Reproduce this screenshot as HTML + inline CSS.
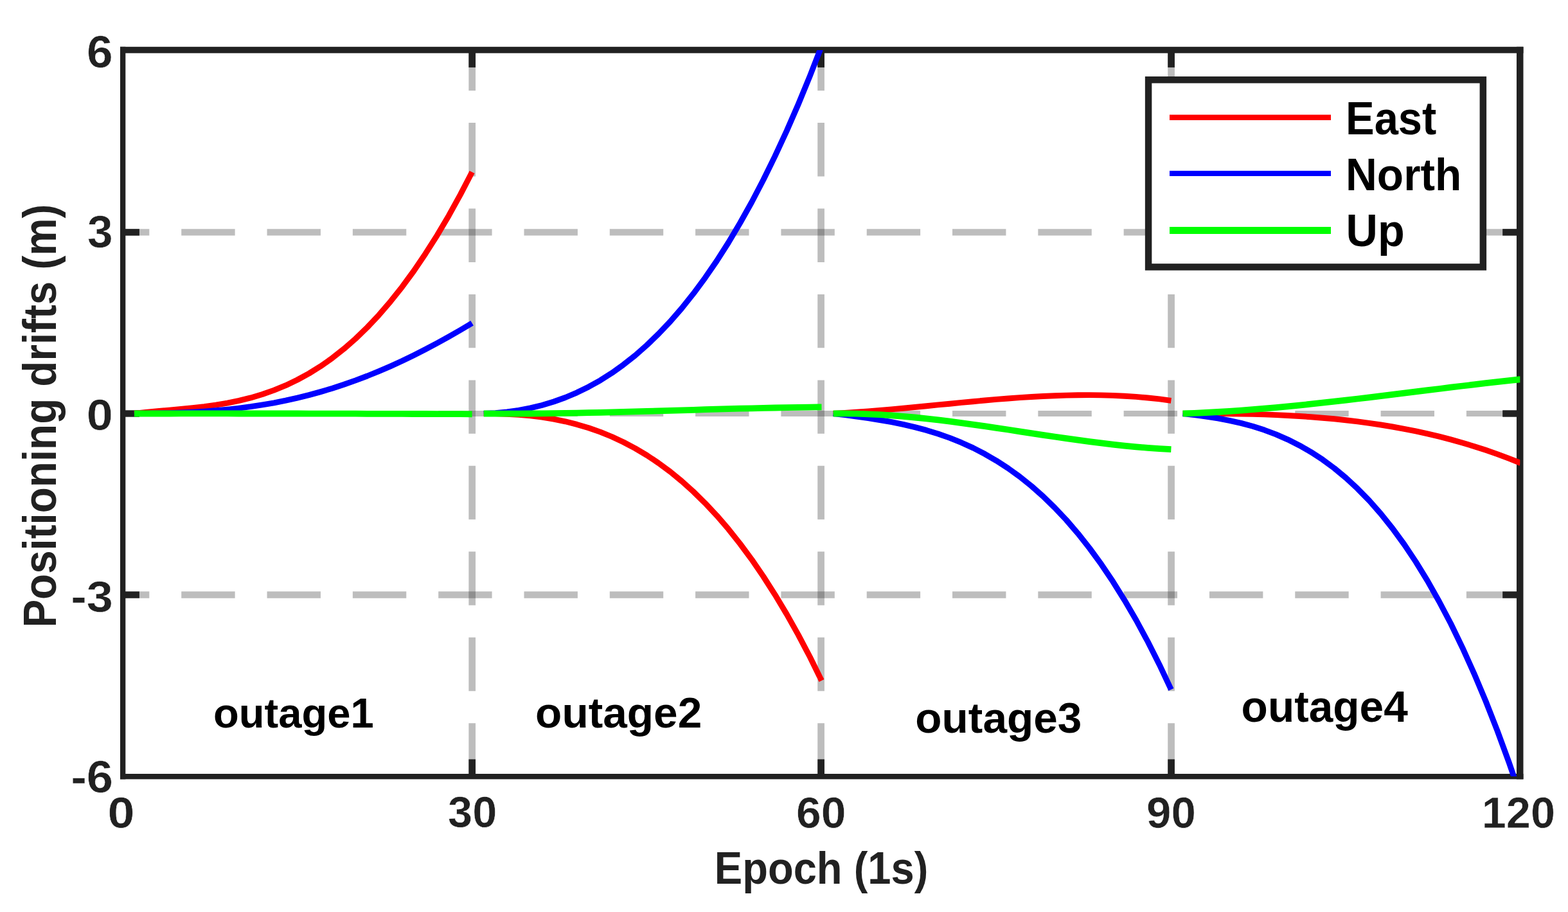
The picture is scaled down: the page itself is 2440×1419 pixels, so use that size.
<!DOCTYPE html>
<html lang="en"><head><meta charset="utf-8"><title>Positioning drifts</title>
<style>
html,body{margin:0;padding:0;background:#fff;}
body{width:2440px;height:1419px;overflow:hidden;}
svg{display:block;}
text{font-family:"Liberation Sans",Arial,Helvetica,sans-serif;font-weight:bold;}
</style></head><body>
<svg width="2440" height="1419" viewBox="0 0 2440 1419">
<rect width="2440" height="1419" fill="#fff"/>
<defs><clipPath id="ax"><rect x="190.9" y="78.0" width="2174.4" height="1130.0"/></clipPath></defs>

<g stroke="#262626" stroke-opacity="0.3" fill="none" stroke-dasharray="83.4 50.05">
<path d="M734.7,1208.6 V78.0" stroke-width="10.7"/>
<path d="M1277.6,1208.6 V78.0" stroke-width="10.7"/>
<path d="M1822.6,1208.6 V78.0" stroke-width="10.7"/>
<path d="M2365.3,361.4 H190.9" stroke-width="10.4" stroke-dasharray="83.4 49.91"/>
<path d="M2365.3,643.5 H190.9" stroke-width="9.0" stroke-dasharray="83.4 49.91"/>
<path d="M2365.3,925.5 H190.9" stroke-width="10.4" stroke-dasharray="83.4 49.91"/>
</g>
<g fill="#212121">
<rect x="187" y="72.8" width="2183.5" height="9.9"/>
<rect x="187" y="1204" width="2183.5" height="8.4"/>
<rect x="187" y="72.8" width="8.3" height="1139.6"/>
<rect x="2360" y="72.8" width="10.5" height="1139.6"/>
<rect x="729.35" y="78" width="10.7" height="26.9"/>
<rect x="729.35" y="1181.4" width="10.7" height="26.6"/>
<rect x="1272.25" y="78" width="10.7" height="26.9"/>
<rect x="1272.25" y="1181.4" width="10.7" height="26.6"/>
<rect x="1817.25" y="78" width="10.7" height="26.9"/>
<rect x="1817.25" y="1181.4" width="10.7" height="26.6"/>
<rect x="191" y="356.20" width="25.9" height="10.4"/>
<rect x="2338.2" y="356.20" width="26.8" height="10.4"/>
<rect x="191" y="638.30" width="25.9" height="10.4"/>
<rect x="2338.2" y="638.30" width="26.8" height="10.4"/>
<rect x="191" y="920.30" width="25.9" height="10.4"/>
<rect x="2338.2" y="920.30" width="26.8" height="10.4"/>
</g>
<g fill="none" stroke-linejoin="round" stroke-linecap="butt" clip-path="url(#ax)">
<path d="M208.9,643.5 L227.0,641.5 L245.1,639.8 L263.3,638.1 L281.4,636.5 L299.5,634.7 L317.7,632.6 L335.8,630.1 L353.9,627.1 L372.0,623.4 L390.2,618.9 L408.3,613.5 L426.4,607.1 L444.6,599.7 L462.7,591.0 L480.8,581.1 L499.0,569.8 L517.1,557.1 L535.2,542.8 L553.3,527.0 L571.5,509.4 L589.6,490.2 L607.7,469.1 L625.9,446.2 L644.0,421.5 L662.1,394.7 L680.3,366.1 L698.4,335.4 L716.5,302.6 L734.6,267.8" stroke="#ff0000" stroke-width="8.9"/>
<path d="M208.9,643.5 L227.0,643.3 L245.1,643.0 L263.3,642.6 L281.4,642.0 L299.5,641.2 L317.7,640.1 L335.8,638.7 L353.9,637.1 L372.0,635.1 L390.2,632.7 L408.3,629.9 L426.4,626.8 L444.6,623.2 L462.7,619.1 L480.8,614.6 L499.0,609.6 L517.1,604.2 L535.2,598.3 L553.3,591.9 L571.5,585.0 L589.6,577.6 L607.7,569.8 L625.9,561.5 L644.0,552.7 L662.1,543.5 L680.3,533.9 L698.4,523.9 L716.5,513.5 L734.6,502.7" stroke="#0000ff" stroke-width="8.9"/>
<path d="M208.9,643.5 L227.0,643.5 L245.1,643.5 L263.3,643.5 L281.4,643.4 L299.5,643.4 L317.7,643.4 L335.8,643.4 L353.9,643.4 L372.0,643.5 L390.2,643.5 L408.3,643.5 L426.4,643.5 L444.6,643.5 L462.7,643.5 L480.8,643.6 L499.0,643.6 L517.1,643.6 L535.2,643.7 L553.3,643.7 L571.5,643.8 L589.6,643.8 L607.7,643.9 L625.9,643.9 L644.0,644.0 L662.1,644.0 L680.3,644.1 L698.4,644.1 L716.5,644.2 L734.6,644.3" stroke="#00ff00" stroke-width="9.8"/>
<path d="M752.8,643.5 L770.9,643.6 L789.0,644.2 L807.2,645.3 L825.3,646.9 L843.4,649.2 L861.6,652.1 L879.7,655.8 L897.8,660.4 L915.9,665.8 L934.1,672.1 L952.2,679.5 L970.3,688.0 L988.5,697.6 L1006.6,708.4 L1024.7,720.5 L1042.9,733.9 L1061.0,748.7 L1079.1,765.0 L1097.2,782.8 L1115.4,802.2 L1133.5,823.2 L1151.6,846.0 L1169.8,870.6 L1187.9,897.0 L1206.0,925.3 L1224.2,955.6 L1242.3,987.9 L1260.4,1022.3 L1278.5,1059.0" stroke="#ff0000" stroke-width="8.9"/>
<path d="M752.8,643.5 L770.9,642.6 L789.0,640.9 L807.2,638.3 L825.3,634.9 L843.4,630.5 L861.6,625.0 L879.7,618.5 L897.8,610.8 L915.9,601.9 L934.1,591.8 L952.2,580.3 L970.3,567.3 L988.5,553.0 L1006.6,537.0 L1024.7,519.5 L1042.9,500.4 L1061.0,479.5 L1079.1,456.8 L1097.2,432.3 L1115.4,405.9 L1133.5,377.5 L1151.6,347.0 L1169.8,314.5 L1187.9,279.8 L1206.0,242.9 L1224.2,203.6 L1242.3,162.1 L1260.4,118.1 L1278.5,71.6" stroke="#0000ff" stroke-width="8.9"/>
<path d="M752.8,643.5 L770.9,643.6 L789.0,643.7 L807.2,643.6 L825.3,643.5 L843.4,643.4 L861.6,643.2 L879.7,642.9 L897.8,642.6 L915.9,642.2 L934.1,641.8 L952.2,641.3 L970.3,640.9 L988.5,640.4 L1006.6,639.9 L1024.7,639.4 L1042.9,638.8 L1061.0,638.3 L1079.1,637.8 L1097.2,637.2 L1115.4,636.7 L1133.5,636.2 L1151.6,635.7 L1169.8,635.3 L1187.9,634.9 L1206.0,634.5 L1224.2,634.1 L1242.3,633.9 L1260.4,633.6 L1278.5,633.4" stroke="#00ff00" stroke-width="9.8"/>
<path d="M1296.7,643.5 L1314.8,642.5 L1332.9,641.3 L1351.1,640.0 L1369.2,638.5 L1387.3,636.9 L1405.5,635.2 L1423.6,633.5 L1441.7,631.7 L1459.8,629.9 L1478.0,628.2 L1496.1,626.4 L1514.2,624.7 L1532.4,623.0 L1550.5,621.4 L1568.6,620.0 L1586.8,618.6 L1604.9,617.5 L1623.0,616.5 L1641.1,615.7 L1659.3,615.1 L1677.4,614.7 L1695.5,614.6 L1713.7,614.9 L1731.8,615.4 L1749.9,616.2 L1768.1,617.4 L1786.2,619.0 L1804.3,620.9 L1822.4,623.3" stroke="#ff0000" stroke-width="8.9"/>
<path d="M1296.7,643.5 L1314.8,645.7 L1332.9,648.1 L1351.1,650.7 L1369.2,653.5 L1387.3,656.7 L1405.5,660.4 L1423.6,664.6 L1441.7,669.4 L1459.8,675.0 L1478.0,681.4 L1496.1,688.7 L1514.2,696.9 L1532.4,706.3 L1550.5,716.8 L1568.6,728.5 L1586.8,741.6 L1604.9,756.1 L1623.0,772.1 L1641.1,789.7 L1659.3,809.0 L1677.4,830.1 L1695.5,853.0 L1713.7,877.9 L1731.8,904.8 L1749.9,933.8 L1768.1,965.0 L1786.2,998.5 L1804.3,1034.4 L1822.4,1072.8" stroke="#0000ff" stroke-width="8.9"/>
<path d="M1296.7,643.5 L1314.8,643.4 L1332.9,643.7 L1351.1,644.3 L1369.2,645.2 L1387.3,646.4 L1405.5,647.8 L1423.6,649.5 L1441.7,651.4 L1459.8,653.4 L1478.0,655.7 L1496.1,658.1 L1514.2,660.6 L1532.4,663.2 L1550.5,665.8 L1568.6,668.5 L1586.8,671.3 L1604.9,674.1 L1623.0,676.8 L1641.1,679.5 L1659.3,682.1 L1677.4,684.7 L1695.5,687.1 L1713.7,689.4 L1731.8,691.6 L1749.9,693.6 L1768.1,695.3 L1786.2,696.9 L1804.3,698.2 L1822.4,699.2" stroke="#00ff00" stroke-width="9.8"/>
<path d="M1840.6,643.5 L1858.7,643.4 L1876.8,643.4 L1895.0,643.5 L1913.1,643.7 L1931.2,644.0 L1949.4,644.4 L1967.5,644.9 L1985.6,645.6 L2003.8,646.5 L2021.9,647.5 L2040.0,648.7 L2058.1,650.2 L2076.3,651.8 L2094.4,653.7 L2112.5,655.9 L2130.7,658.3 L2148.8,661.0 L2166.9,664.0 L2185.1,667.3 L2203.2,670.9 L2221.3,674.9 L2239.4,679.2 L2257.6,683.9 L2275.7,689.0 L2293.8,694.4 L2312.0,700.3 L2330.1,706.6 L2348.2,713.4 L2366.3,720.5" stroke="#ff0000" stroke-width="8.9"/>
<path d="M1840.6,643.5 L1858.7,645.6 L1876.8,648.0 L1895.0,650.9 L1913.1,654.3 L1931.2,658.4 L1949.4,663.3 L1967.5,669.1 L1985.6,675.9 L2003.8,683.8 L2021.9,692.9 L2040.0,703.3 L2058.1,715.1 L2076.3,728.5 L2094.4,743.5 L2112.5,760.3 L2130.7,778.9 L2148.8,799.5 L2166.9,822.1 L2185.1,847.0 L2203.2,874.1 L2221.3,903.6 L2239.4,935.7 L2257.6,970.3 L2275.7,1007.7 L2293.8,1047.8 L2312.0,1091.0 L2330.1,1137.1 L2348.2,1186.4 L2366.3,1239.0" stroke="#0000ff" stroke-width="8.9"/>
<path d="M1840.6,643.5 L1858.7,642.8 L1876.8,642.0 L1895.0,641.0 L1913.1,639.8 L1931.2,638.6 L1949.4,637.2 L1967.5,635.7 L1985.6,634.1 L2003.8,632.3 L2021.9,630.6 L2040.0,628.7 L2058.1,626.7 L2076.3,624.7 L2094.4,622.6 L2112.5,620.5 L2130.7,618.3 L2148.8,616.2 L2166.9,613.9 L2185.1,611.7 L2203.2,609.4 L2221.3,607.2 L2239.4,605.0 L2257.6,602.7 L2275.7,600.5 L2293.8,598.4 L2312.0,596.2 L2330.1,594.2 L2348.2,592.1 L2366.3,590.2" stroke="#00ff00" stroke-width="9.8"/>
</g>
<rect x="1787.1" y="124.2" width="520.75" height="291.25" fill="#fff" stroke="#212121" stroke-width="10.5"/>
<path d="M1820,182.75 H2071" stroke="#ff0000" stroke-width="8.3"/>
<path d="M1820,269.9 H2071" stroke="#0000ff" stroke-width="8.3"/>
<path d="M1820,358.4 H2071" stroke="#00ff00" stroke-width="11"/>
<text transform="translate(134.98,104.65) scale(1.0463,1)" font-size="69.86" fill="#212121" stroke="#fff" stroke-width="0.50" stroke-linejoin="round">6</text>
<text transform="translate(136.04,385.48) scale(1.0211,1)" font-size="69.75" fill="#212121" stroke="#fff" stroke-width="0.50" stroke-linejoin="round">3</text>
<text transform="translate(134.86,668.55) scale(1.0634,1)" font-size="69.43" fill="#212121" stroke="#fff" stroke-width="0.51" stroke-linejoin="round">0</text>
<text transform="translate(110.16,952.08) scale(1.0669,1)" font-size="69.18" fill="#212121" stroke="#fff" stroke-width="0.51" stroke-linejoin="round">-3</text>
<text transform="translate(110.15,1233.15) scale(1.0597,1)" font-size="70.00" fill="#212121" stroke="#fff" stroke-width="0.50" stroke-linejoin="round">-6</text>
<text transform="translate(167.39,1287.55) scale(1.0902,1)" font-size="69.29" fill="#212121" stroke="#fff" stroke-width="0.51" stroke-linejoin="round">0</text>
<text transform="translate(697.12,1287.48) scale(0.9957,1)" font-size="68.75" fill="#212121" stroke="#fff" stroke-width="0.50" stroke-linejoin="round">30</text>
<text transform="translate(1239.12,1287.65) scale(1.0085,1)" font-size="69.00" fill="#212121" stroke="#fff" stroke-width="0.50" stroke-linejoin="round">60</text>
<text transform="translate(1784.01,1287.65) scale(1.0018,1)" font-size="69.00" fill="#212121" stroke="#fff" stroke-width="0.50" stroke-linejoin="round">90</text>
<text transform="translate(2305.68,1287.65) scale(0.9929,1)" font-size="69.00" fill="#212121" stroke="#fff" stroke-width="0.50" stroke-linejoin="round">120</text>
<text transform="translate(1111.81,1375.10) scale(0.9204,1)" font-size="70.69" fill="#212121">Epoch (1s)</text>
<text transform="translate(86.50,976.62) rotate(-90) scale(0.9141,1)" font-size="71.71" fill="#212121">Positioning drifts (m)</text>
<text transform="translate(2094.09,208.70) scale(0.9362,1)" font-size="71.42" fill="#000">East</text>
<text transform="translate(2094.04,295.80) scale(0.9566,1)" font-size="70.69" fill="#000">North</text>
<text transform="translate(2094.50,382.70) scale(0.9716,1)" font-size="70.40" fill="#000">Up</text>
<text transform="translate(331.99,1131.55) scale(0.9922,1)" font-size="65.67" fill="#000">outage1</text>
<text transform="translate(833.10,1131.74) scale(1.0005,1)" font-size="67.58" fill="#000">outage2</text>
<text transform="translate(1424.30,1139.83) scale(1.0068,1)" font-size="67.14" fill="#000">outage3</text>
<text transform="translate(1931.60,1123.07) scale(0.9956,1)" font-size="67.89" fill="#000">outage4</text>
</svg></body></html>
